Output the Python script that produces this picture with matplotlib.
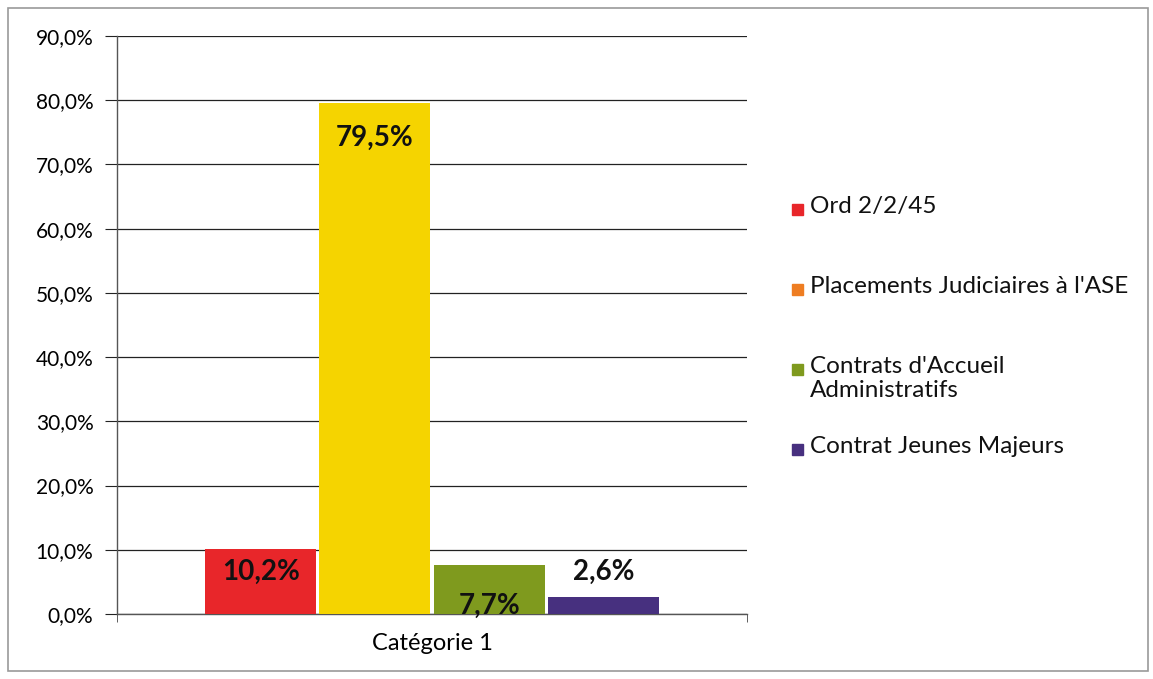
import matplotlib.pyplot as plt
from matplotlib.patches import Rectangle
from matplotlib.ticker import FuncFormatter

plt.rcParams['font.family'] = ['Lato', 'DejaVu Sans']

series = ["Ord 2/2/45", "Placements Judiciaires à l'ASE",
          "Contrats d'Accueil\nAdministratifs", "Contrat Jeunes Majeurs"]
values = [10.2, 79.5, 7.7, 2.6]
bar_colors = ['#e8262a', '#f5d400', '#7f9a1e', '#47307f']
legend_colors = ['#e8262a', '#ee7d22', '#7f9a1e', '#47307f']
category = "Catégorie 1"

fig = plt.figure(figsize=(11.53, 6.79), dpi=100)
ax = fig.add_axes([0.1015, 0.0957, 0.5464, 0.8513])

width = 0.18
offsets = [-0.272, -0.091, 0.091, 0.272]
for off, v, c in zip(offsets, values, bar_colors):
    ax.bar(off, v, width=width - 0.004, color=c, zorder=3)

# value labels: inside for the first three, above for the last
label_y = [values[0] - 3.6, values[1] - 5.4, 1.2, values[3] + 4.0]
for off, v, y in zip(offsets, values, label_y):
    ax.text(off, y, f"{v:.1f}%".replace('.', ','), ha='center', va='center',
            fontsize=20, fontweight='bold', color='#111111', zorder=4)

ax.set_xlim(-0.5, 0.5)
ax.set_ylim(0, 90)
ax.set_yticks(range(0, 91, 10))
ax.yaxis.set_major_formatter(FuncFormatter(lambda v, p: f"{v:.1f}%".replace('.', ',')))
ax.yaxis.grid(True, color='#222222', linewidth=0.9, zorder=0)
ax.set_xticks([0])
ax.set_xticklabels([category])
ax.set_xticks([-0.5, 0.5], minor=True)
ax.tick_params(axis='x', which='major', length=0, pad=14, labelsize=17)
ax.tick_params(axis='x', which='minor', length=6, color='#444444')
ax.tick_params(axis='y', length=9, color='#222222', labelsize=15, pad=8)
for s in ['top', 'right']:
    ax.spines[s].set_visible(False)
for s in ['left', 'bottom']:
    ax.spines[s].set_color('#555555')
    ax.spines[s].set_linewidth(1.0)

# legend drawn by hand to keep Excel-like spacing
leg_y = [210, 290, 370, 450]
for lab, c, y in zip(series, legend_colors, leg_y):
    fy = 1 - y / 679
    fig.patches.append(Rectangle((792 / 1153, fy - 5 / 679), 11 / 1153, 11 / 679,
                                 transform=fig.transFigure, color=c))
    fig.text(810 / 1153, fy + 14 / 679, lab, ha='left', va='top', fontsize=17.5,
             linespacing=1.2, color='#111111')

# outer chart frame
fig.patches.append(Rectangle((8 / 1153, 8 / 679), 1140 / 1153, 663 / 679,
                             transform=fig.transFigure, fill=False,
                             edgecolor='#9a9a9a', linewidth=1.2))

fig.savefig('out.png', dpi=100)
